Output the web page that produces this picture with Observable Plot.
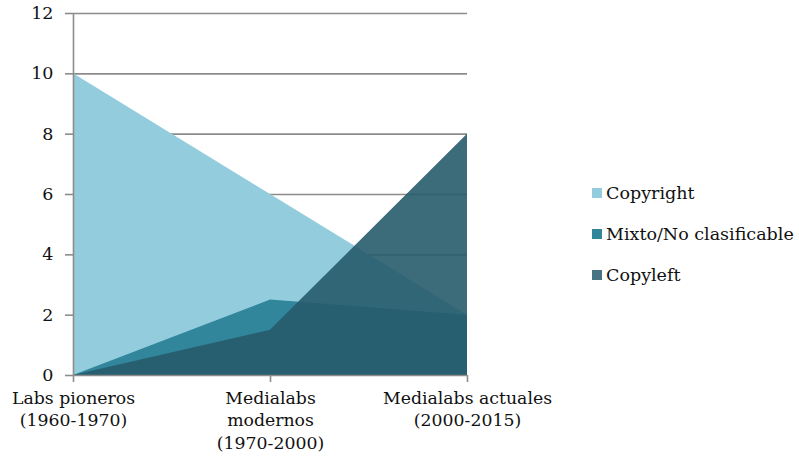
<!DOCTYPE html>
<html>
<head>
<meta charset="utf-8">
<script src="https://cdn.jsdelivr.net/npm/d3@7"></script>
<script src="https://cdn.jsdelivr.net/npm/@observablehq/plot@0.6"></script>
<style>
  html, body { margin: 0; padding: 0; background: #fff; }
  #wrap { position: relative; width: 799px; height: 464px; font-family: "DejaVu Serif", serif; }
  #legend { position: absolute; left: 592px; top: 181px; font-size: 17.5px; color: #111; }
  #legend .item { display: flex; align-items: center; height: 24px; margin-bottom: 17px; }
  #legend .sw { width: 10px; height: 10px; margin-right: 4px; }
</style>
</head>
<body>
<div id="wrap"></div>
<script>
// Periods (x axis) and number of labs per licence model
const periods = ["Labs pioneros\n(1960-1970)", "Medialabs\nmodernos\n(1970-2000)", "Medialabs actuales\n(2000-2015)"];
const copyright = [10, 6, 2];
const mixto = [0, 2.5, 2];
const copyleft = [0, 1.5, 8];
const seriesNames = ["Copyright", "Mixto/No clasificable", "Copyleft"];
const yTicks = [0, 2, 4, 6, 8, 10, 12];

const colors = {
  "Copyright": "#93cddd",
  "Mixto/No clasificable": "#31869c",
  "Copyleft": "#275b6c"
};

const rows = (name, values) => periods.map((p, i) => ({period: p, value: values[i], series: name}));
const dCopyright = rows(seriesNames[0], copyright);
const dMixto = rows(seriesNames[1], mixto);
const dCopyleft = rows(seriesNames[2], copyleft);

const chart = Plot.plot({
  width: 799,
  height: 464,
  marginLeft: 73,
  marginRight: 332,
  marginTop: 13,
  marginBottom: 89,
  style: {fontFamily: "DejaVu Serif, serif", fontSize: "16px", color: "#111", background: "#fff"},
  x: {type: "point", domain: periods, padding: 0},
  y: {domain: [0, 12]},
  marks: [
    Plot.ruleY(yTicks.filter(d => d > 0), {stroke: "#8c8c8c", strokeWidth: 1.6}),
    Plot.areaY(dCopyright, {x: "period", y: "value", fill: colors["Copyright"]}),
    Plot.areaY(dMixto, {x: "period", y: "value", fill: colors["Mixto/No clasificable"]}),
    Plot.areaY(dCopyleft, {x: "period", y: "value", fill: colors["Copyleft"], fillOpacity: 0.9}),
    Plot.ruleX([periods[0]], {y1: 0, y2: 12, stroke: "#8c8c8c", strokeWidth: 1.6}),
    Plot.ruleY([0], {stroke: "#8c8c8c", strokeWidth: 1.6}),
    Plot.axisY({ticks: yTicks, tickSize: 8, tickPadding: 12, stroke: "#8c8c8c", strokeWidth: 1.6, label: null, fontSize: 17.5}),
    Plot.axisX({tickSize: 7, tickPadding: 6, stroke: "#8c8c8c", strokeWidth: 1.6, label: null, fontSize: 17.3, lineHeight: 1.28})
  ]
});

const wrap = document.getElementById("wrap");
wrap.appendChild(chart);

// Legend
const legend = document.createElement("div");
legend.id = "legend";
for (const name of seriesNames) {
  const item = document.createElement("div");
  item.className = "item";
  const sw = document.createElement("span");
  sw.className = "sw";
  sw.style.background = colors[name];
  if (name === "Copyleft") sw.style.opacity = 0.85;
  const label = document.createElement("span");
  label.textContent = name;
  item.appendChild(sw);
  item.appendChild(label);
  legend.appendChild(item);
}
wrap.appendChild(legend);
</script>
</body>
</html>
